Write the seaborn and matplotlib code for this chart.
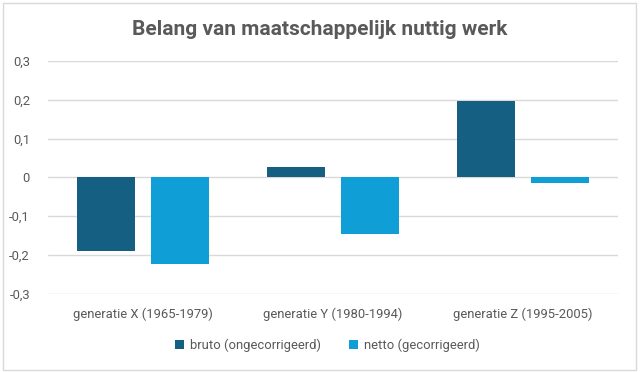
import matplotlib
matplotlib.use("Agg")
import matplotlib.pyplot as plt
from matplotlib.patches import Rectangle
import seaborn as sns
import pandas as pd

categories = ["generatie X (1965-1979)", "generatie Y (1980-1994)", "generatie Z (1995-2005)"]
series_names = ["bruto (ongecorrigeerd)", "netto (gecorrigeerd)"]
bruto = [-0.19, 0.028, 0.198]
netto = [-0.222, -0.145, -0.015]
yticks = [-0.3, -0.2, -0.1, 0, 0.1, 0.2, 0.3]
ytick_labels = ["-0,3", "-0,2", "-0,1", "0", "0,1", "0,2", "0,3"]
title = "Belang van maatschappelijk nuttig werk"

df = pd.DataFrame({
    "cat": categories * 2,
    "serie": [series_names[0]] * 3 + [series_names[1]] * 3,
    "val": bruto + netto,
})

sns.set_theme(style="white")
plt.rcParams["font.family"] = ["Roboto", "DejaVu Sans"]

fig = plt.figure(figsize=(6.4, 3.72), dpi=100)
ax = fig.add_axes([0.075, 0.21, 0.891, 0.626])

palette = {series_names[0]: "#156082", series_names[1]: "#0F9ED5"}
sns.barplot(data=df, x="cat", y="val", hue="serie", order=categories,
            hue_order=series_names, palette=palette, width=0.78, gap=0.216,
            saturation=1, ax=ax, legend=True, linewidth=0)

ax.set_ylim(-0.3, 0.3)
ax.set_xlim(-0.5, 2.5)
ax.set_yticks(yticks)
ax.set_yticklabels(ytick_labels)
ax.yaxis.grid(True, color="#D9D9D9", linewidth=1)
ax.set_axisbelow(True)
for s in ax.spines.values():
    s.set_visible(False)
ax.tick_params(axis="both", length=0, labelsize=9.4, colors="#595959")
ax.tick_params(axis="x", pad=10)
ax.tick_params(axis="y", pad=13)
ax.set_xlabel("")
ax.set_ylabel("")

leg = ax.legend(loc="upper center", bbox_to_anchor=(0.49, -0.14), ncol=2,
                frameon=False, fontsize=9.4, handlelength=0.7, handleheight=0.7,
                handletextpad=0.4, columnspacing=2.2, labelcolor="#595959")

fig.text(0.5, 0.922, title, ha="center", va="center", fontsize=15,
         fontweight="bold", color="#595959")

fig.patches.append(Rectangle((0.004, 0.006), 0.99, 0.985, transform=fig.transFigure,
                             fill=False, edgecolor="#D9D9D9", linewidth=1))

fig.savefig("out.png", dpi=100)
